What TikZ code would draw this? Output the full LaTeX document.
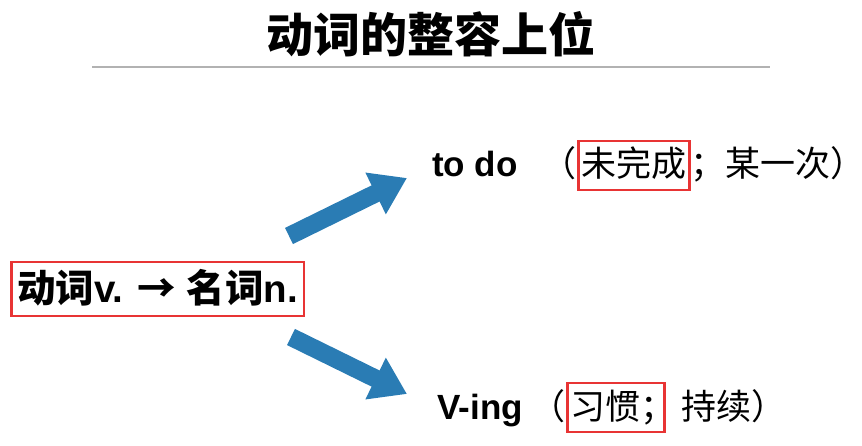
\documentclass[tikz,border=0pt]{standalone}
\usepackage{fontspec}
\setmainfont{Liberation Sans}
\newfontfamily\cjk{Noto Sans CJK SC}
\newcommand{\zh}[1]{{\cjk #1}}
\usetikzlibrary{arrows.meta, positioning}
\definecolor{arrowblue}{RGB}{42,124,180}
\definecolor{boxred}{RGB}{232,52,52}

\begin{document}
\begin{tikzpicture}[x=1pt, y=-1pt,
    txt/.style={inner sep=0pt, anchor=base west, font=\fontsize{35}{40}\selectfont},
    bftxt/.style={txt, font=\fontsize{35}{40}\selectfont\bfseries},
    redbox/.style={draw=boxred, line width=2.5pt, inner xsep=3pt, inner ysep=0pt, text depth=13pt},
    bigarrow/.style={draw=arrowblue, line width=18pt, -{Triangle[length=35pt, width=44pt]}}]
    \useasboundingbox (0,0) rectangle (862,446);

    % 标题
    \node[font=\fontsize{47}{56}\selectfont\bfseries] (title) at (431,34) {\zh{动词的整容上位}};
    \draw[gray!60, line width=1.2pt] (92,67) -- (770,67);

    % 左边
    \node[bftxt, redbox, font=\fontsize{38.5}{44}\selectfont\bfseries, text height=41pt, inner xsep=6pt] (verb) at (10,303) {\zh{动词}v. \zh{→} \zh{名词}n.};

    % 上面
    \node[bftxt] (todo) at (432,177) {to do};
    \node[txt, anchor=base east] (todoL) at (577,177) {\zh{（}};
    \node[txt, redbox, text height=36pt] (wwc) at (577,177) {\zh{未完成}};
    \node[txt] (todoR) at (wwc.base east) {\zh{；某一次}\makebox[.5em][l]{\zh{）}}};

    % 下面
    \node[bftxt] (ving) at (437,419) {V-ing};
    \node[txt, anchor=base east] (vingL) at (566,419) {\zh{（}};
    \node[txt, redbox, text height=36pt] (xg) at (566,419) {\makebox[91pt][l]{\zh{习惯；}}};
    \node[txt] (vingR) at (681,419) {\zh{持续）}};

    % 箭头
    \coordinate (upTail) at (289,236);
    \coordinate (upTip) at (407,178);
    \coordinate (downTail) at (291,337);
    \coordinate (downTip) at (407,394);
    \draw[bigarrow] (upTail) -- (upTip);
    \draw[bigarrow] (downTail) -- (downTip);
\end{tikzpicture}
\end{document}
